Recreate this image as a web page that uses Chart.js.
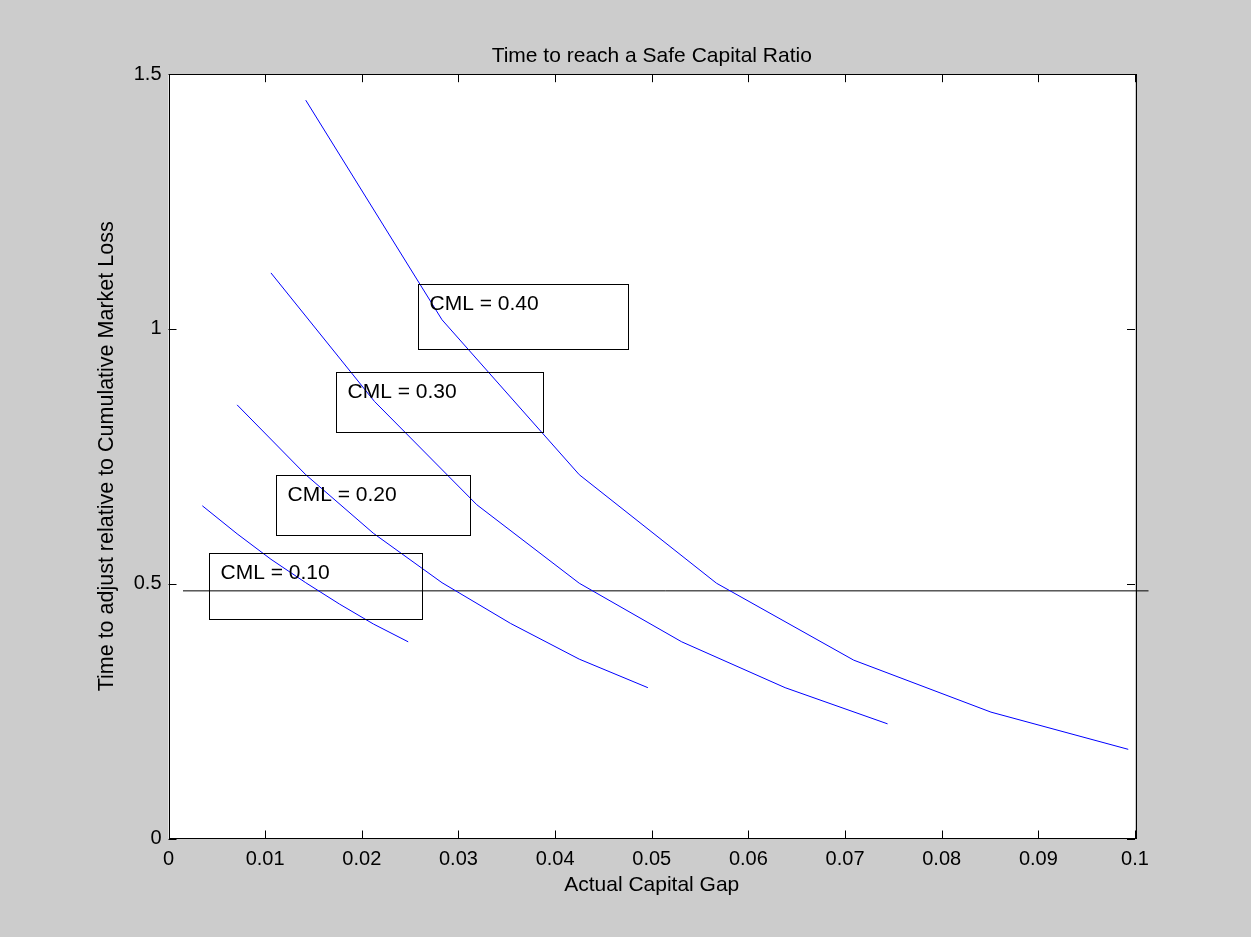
<!DOCTYPE html>
<html>
<head>
<meta charset="utf-8">
<script src="https://cdn.jsdelivr.net/npm/chart.js@4.4.1/dist/chart.umd.min.js"></script>
<style>
  html, body { margin: 0; padding: 0; background: #cccccc; }
  #wrap { width: 1251px; height: 937px; }
</style>
</head>
<body>
<div id="wrap"><canvas id="c" width="1251" height="937"></canvas></div>
<script>
// ---- Data ----
const xTicks = [0, 0.01, 0.02, 0.03, 0.04, 0.05, 0.06, 0.07, 0.08, 0.09, 0.1];
const yTicks = [0, 0.5, 1, 1.5];

const gap40 = [0.0142, 0.0283, 0.0425, 0.0567, 0.0709, 0.0851, 0.0993];
const time40 = [1.449, 1.018, 0.714, 0.501, 0.350, 0.248, 0.175];

const gap30 = [0.0106, 0.0213, 0.0319, 0.0425, 0.0531, 0.0638, 0.0744];
const time30 = [1.110, 0.858, 0.655, 0.501, 0.386, 0.296, 0.225];

const gap20 = [0.0071, 0.0142, 0.0212, 0.0283, 0.0354, 0.0425, 0.0496];
const time20 = [0.851, 0.714, 0.599, 0.502, 0.422, 0.352, 0.296];

const gap10 = [0.0035, 0.0071, 0.0106, 0.0142, 0.0177, 0.0212, 0.0248];
const time10 = [0.653, 0.598, 0.548, 0.502, 0.460, 0.421, 0.386];

const safeGap = [0.0015, 0.1014];
const safeTime = [0.486, 0.486];

const boxLabels = ['CML = 0.40', 'CML = 0.30', 'CML = 0.20', 'CML = 0.10'];
// annotation boxes in data units: [xLeft, xRight, yTop, yBottom]
const boxExtents = [
  [0.02578, 0.04759, 1.0882, 0.9605],
  [0.01733, 0.03870, 0.9155, 0.7975],
  [0.01111, 0.03124, 0.7136, 0.5956],
  [0.00420, 0.02624, 0.5608, 0.4299]
];

const FONT = '"Liberation Sans", Arial, sans-serif';
const pts = (xs, ys) => xs.map((x, i) => ({x: x, y: ys[i]}));

const blueLine = (label, xs, ys) => ({
  label: label, data: pts(xs, ys), borderColor: '#0000ff', borderWidth: 1,
  pointRadius: 0, tension: 0, fill: false
});

const framePlugin = {
  id: 'frame',
  beforeDraw(chart) {
    const ctx = chart.ctx, a = chart.chartArea;
    ctx.save();
    ctx.fillStyle = '#cccccc';
    ctx.fillRect(0, 0, chart.width, chart.height);
    ctx.fillStyle = '#ffffff';
    ctx.fillRect(a.left, a.top, a.right - a.left, a.bottom - a.top);
    ctx.restore();
  },
  afterDatasetsDraw(chart) {
    const ctx = chart.ctx, xs = chart.scales.x, ys = chart.scales.y;
    ctx.save();
    ctx.strokeStyle = '#000000';
    ctx.lineWidth = 1;
    ctx.font = '21px ' + FONT;
    ctx.fillStyle = '#000000';
    ctx.textBaseline = 'middle';
    ctx.textAlign = 'left';
    boxExtents.forEach((b, i) => {
      const l = Math.round(xs.getPixelForValue(b[0])) + 0.5;
      const r = Math.round(xs.getPixelForValue(b[1])) + 0.5;
      const t = Math.round(ys.getPixelForValue(b[2])) + 0.5;
      const btm = Math.round(ys.getPixelForValue(b[3])) + 0.5;
      ctx.strokeRect(l, t, r - l, btm - t);
      ctx.fillText(boxLabels[i], l + 11, t + 20);
    });
    ctx.restore();
  },
  afterDraw(chart) {
    const ctx = chart.ctx, a = chart.chartArea, xs = chart.scales.x, ys = chart.scales.y;
    ctx.save();
    ctx.strokeStyle = '#000000';
    ctx.lineWidth = 1;
    ctx.strokeRect(Math.round(a.left) + 0.5, Math.round(a.top) + 0.5,
                   Math.round(a.right - a.left), Math.round(a.bottom - a.top));
    const tl = 8;
    ctx.beginPath();
    xTicks.forEach(v => {
      const px = Math.round(xs.getPixelForValue(v)) + 0.5;
      ctx.moveTo(px, a.bottom); ctx.lineTo(px, a.bottom - tl);
      ctx.moveTo(px, a.top); ctx.lineTo(px, a.top + tl);
    });
    yTicks.forEach(v => {
      const py = Math.round(ys.getPixelForValue(v)) + 0.5;
      ctx.moveTo(a.left, py); ctx.lineTo(a.left + tl, py);
      ctx.moveTo(a.right, py); ctx.lineTo(a.right - tl, py);
    });
    ctx.stroke();
    ctx.restore();
  }
};

new Chart(document.getElementById('c'), {
  type: 'line',
  data: {
    datasets: [
      blueLine('CML = 0.40', gap40, time40),
      blueLine('CML = 0.30', gap30, time30),
      blueLine('CML = 0.20', gap20, time20),
      blueLine('CML = 0.10', gap10, time10),
      {
        label: 'Safe ratio', data: pts(safeGap, safeTime), borderColor: '#000000',
        borderWidth: 1, pointRadius: 0, tension: 0, fill: false, clip: false
      }
    ]
  },
  options: {
    responsive: false,
    devicePixelRatio: 1,
    animation: false,
    layout: { padding: { left: 0, right: 116, top: 0, bottom: 0 } },
    plugins: {
      legend: { display: false },
      tooltip: { enabled: false },
      title: {
        display: true,
        fullSize: false,
        text: 'Time to reach a Safe Capital Ratio',
        color: '#000000',
        font: { family: FONT, size: 21, weight: 'normal', lineHeight: 1.2 },
        padding: { top: 44, bottom: 5 }
      }
    },
    scales: {
      x: {
        type: 'linear', min: 0, max: 0.1,
        afterBuildTicks(scale) { scale.ticks = xTicks.map(v => ({value: v})); },
        afterFit(scale) { scale.height = 98.5; },
        ticks: {
          color: '#000000', padding: 9, maxRotation: 0, autoSkip: false,
          font: { family: FONT, size: 20 },
          callback: v => String(v)
        },
        grid: { display: false, drawTicks: false },
        border: { display: false },
        title: {
          display: true, text: 'Actual Capital Gap', color: '#000000',
          font: { family: FONT, size: 21, lineHeight: 1.2 },
          padding: { top: 0, bottom: 39 }
        }
      },
      y: {
        type: 'linear', min: 0, max: 1.5,
        afterBuildTicks(scale) { scale.ticks = yTicks.map(v => ({value: v})); },
        afterFit(scale) { scale.width = 168.5; },
        ticks: {
          color: '#000000', padding: 7, autoSkip: false,
          font: { family: FONT, size: 20 },
          callback: v => String(v)
        },
        grid: { display: false, drawTicks: false },
        border: { display: false },
        title: {
          display: true, text: 'Time to adjust relative to Cumulative Market Loss', color: '#000000',
          font: { family: FONT, size: 21.5, lineHeight: 1.2 },
          padding: { top: 94, bottom: 0 }
        }
      }
    }
  },
  plugins: [framePlugin]
});
</script>
</body>
</html>
